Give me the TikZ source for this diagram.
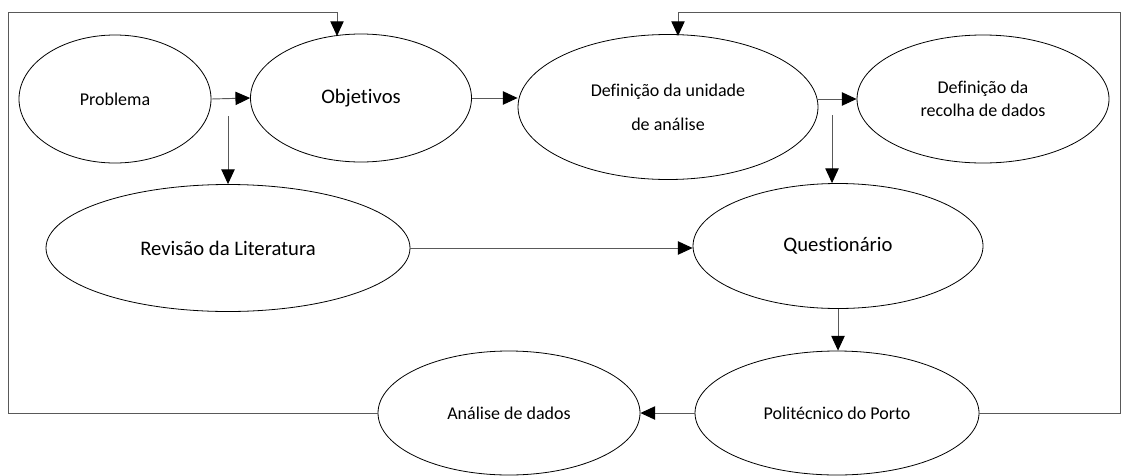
\documentclass[tikz,border=0pt]{standalone}
\usepackage{fontspec}
\setmainfont{Carlito}[Ligatures={NoCommon,NoContextual}]
\usepackage{tikz}
\usetikzlibrary{arrows.meta,shapes.geometric}

\begin{document}
\begin{tikzpicture}[x=0.75pt,y=-0.75pt,>={Triangle[length=11pt,width=10pt,color=black]},
  stage/.style={ellipse,draw,line width=0.6pt,inner sep=0pt,align=center},
  link/.style={->,draw=black!65,line width=0.7pt}]
  \useasboundingbox (0,0) rectangle (1126,475);
  \node[stage,minimum width=144pt,minimum height=96pt,font=\fontsize{13.5}{16}\selectfont] (prob) at (115,99) {Problema};
  \node[stage,minimum width=165.75pt,minimum height=96pt,font=\fontsize{15.5}{18}\selectfont] (obj) at (361,98) {Objetivos};
  \node[stage,minimum width=225pt,minimum height=108.75pt,font=\fontsize{13.5}{25.5}\selectfont] (def) at (668,107) {Definição da unidade\\de análise};
  \node[stage,minimum width=189pt,minimum height=96pt,font=\fontsize{13.5}{17.5}\selectfont] (rec) at (983,99) {Definição da\\recolha de dados};
  \node[stage,minimum width=273pt,minimum height=95.25pt,font=\fontsize{15.5}{18}\selectfont] (rev) at (228,248) {Revisão da Literatura};
  \node[stage,minimum width=217.5pt,minimum height=93.75pt,font=\fontsize{15.5}{18}\selectfont] (quest) at (838,246) {Questionário};
  \node[stage,minimum width=196.5pt,minimum height=93pt,font=\fontsize{13.5}{16}\selectfont] (ana) at (509,413) {Análise de dados};
  \node[stage,minimum width=213pt,minimum height=93pt,font=\fontsize{13.5}{16}\selectfont] (pol) at (837,413) {Politécnico do Porto};
  % free ends of the split arrows and of the feedback loops
  \coordinate (split1) at (228,116);
  \coordinate (split2) at (832,115);
  \coordinate (loopL) at (8,12);
  \coordinate (loopR) at (1120,12);
  \coordinate (objIn) at (337,36);
  \coordinate (defIn) at (678,36);
  \draw[link] (prob.east) -- (obj.west);
  \draw[link] (obj.east) -- (obj.east -| def.west);
  \draw[link] (def.east |- rec.west) -- (rec.west);
  \draw[link] (split1) -- (rev.north);
  \draw[link] (split2) -- (split2 |- quest.north);
  \draw[link] (rev.east) -- (rev.east -| quest.west);
  \draw[link] (quest.south) -- (quest.south |- pol.north);
  \draw[link] (pol.west) -- (ana.east);
  \draw[link] (ana.west) -| (loopL) -| (objIn);
  \draw[link] (pol.east) -| (loopR) -| (defIn);
\end{tikzpicture}
\end{document}
